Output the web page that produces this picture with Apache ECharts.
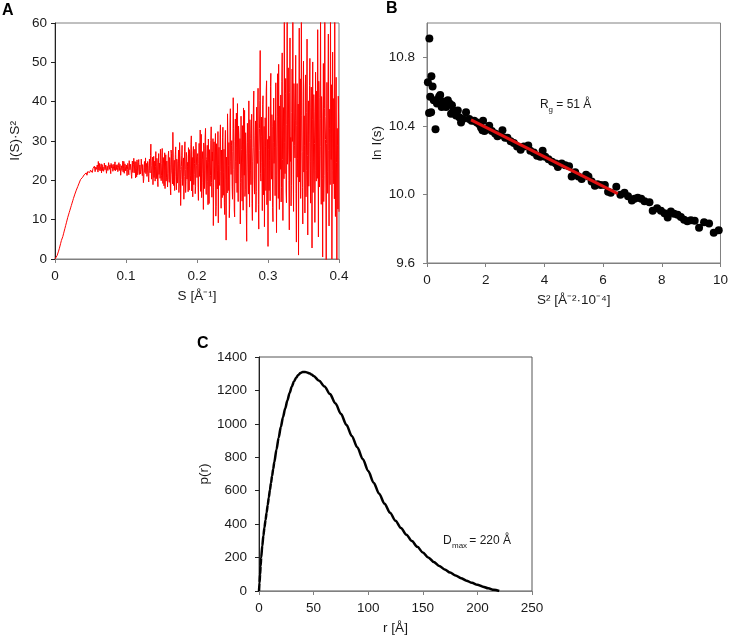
<!DOCTYPE html>
<html><head><meta charset="utf-8">
<script src="https://cdn.jsdelivr.net/npm/echarts@6/dist/echarts.min.js"></script>
<style>html,body{margin:0;padding:0;background:#fff}#c{width:731px;height:636px}</style>
</head><body><div id="c"></div>
<script>
// ---------- Panel A: Kratky plot (main grid) ----------
const sA = [
0,0.001,0.002,0.003,0.004,0.005,0.006,0.007,0.008,0.009,
0.01,0.011,0.012,0.013,0.014,0.015,0.016,0.017,0.018,0.019,
0.02,0.021,0.022,0.023,0.024,0.025,0.026,0.027,0.028,0.029,
0.03,0.031,0.032,0.033,0.034,0.035,0.036,0.037,0.038,0.039,
0.04,0.041,0.042,0.043,0.044,0.045,0.046,0.047,0.048,0.049,
0.05,0.051,0.052,0.053,0.054,0.055,0.056,0.057,0.058,0.059,
0.06,0.061,0.062,0.063,0.064,0.065,0.066,0.067,0.068,0.069,
0.07,0.071,0.072,0.073,0.074,0.075,0.076,0.077,0.078,0.079,
0.08,0.081,0.082,0.083,0.084,0.085,0.086,0.087,0.088,0.089,
0.09,0.091,0.092,0.093,0.094,0.095,0.096,0.097,0.098,0.099,
0.1,0.101,0.102,0.103,0.104,0.105,0.106,0.107,0.108,0.109,
0.11,0.111,0.112,0.113,0.114,0.115,0.116,0.117,0.118,0.119,
0.12,0.121,0.122,0.123,0.124,0.125,0.126,0.127,0.128,0.129,
0.13,0.131,0.132,0.133,0.134,0.135,0.136,0.137,0.138,0.139,
0.14,0.141,0.142,0.143,0.144,0.145,0.146,0.147,0.148,0.149,
0.15,0.151,0.152,0.153,0.154,0.155,0.156,0.157,0.158,0.159,
0.16,0.161,0.162,0.163,0.164,0.165,0.166,0.167,0.168,0.169,
0.17,0.171,0.172,0.173,0.174,0.175,0.176,0.177,0.178,0.179,
0.18,0.181,0.182,0.183,0.184,0.185,0.186,0.187,0.188,0.189,
0.19,0.191,0.192,0.193,0.194,0.195,0.196,0.197,0.198,0.199,
0.2,0.201,0.202,0.203,0.204,0.205,0.206,0.207,0.208,0.209,
0.21,0.211,0.212,0.213,0.214,0.215,0.216,0.217,0.218,0.219,
0.22,0.221,0.222,0.223,0.224,0.225,0.226,0.227,0.228,0.229,
0.23,0.231,0.232,0.233,0.234,0.235,0.236,0.237,0.238,0.239,
0.24,0.241,0.242,0.243,0.244,0.245,0.246,0.247,0.248,0.249,
0.25,0.251,0.252,0.253,0.254,0.255,0.256,0.257,0.258,0.259,
0.26,0.261,0.262,0.263,0.264,0.265,0.266,0.267,0.268,0.269,
0.27,0.271,0.272,0.273,0.274,0.275,0.276,0.277,0.278,0.279,
0.28,0.281,0.282,0.283,0.284,0.285,0.286,0.287,0.288,0.289,
0.29,0.291,0.292,0.293,0.294,0.295,0.296,0.297,0.298,0.299,
0.3,0.301,0.302,0.303,0.304,0.305,0.306,0.307,0.308,0.309,
0.31,0.311,0.312,0.313,0.314,0.315,0.316,0.317,0.318,0.319,
0.32,0.321,0.322,0.323,0.324,0.325,0.326,0.327,0.328,0.329,
0.33,0.331,0.332,0.333,0.334,0.335,0.336,0.337,0.338,0.339,
0.34,0.341,0.342,0.343,0.344,0.345,0.346,0.347,0.348,0.349,
0.35,0.351,0.352,0.353,0.354,0.355,0.356,0.357,0.358,0.359,
0.36,0.361,0.362,0.363,0.364,0.365,0.366,0.367,0.368,0.369,
0.37,0.371,0.372,0.373,0.374,0.375,0.376,0.377,0.378,0.379,
0.38,0.381,0.382,0.383,0.384,0.385,0.386,0.387,0.388,0.389,
0.39,0.391,0.392,0.393,0.394,0.395,0.396,0.397,0.398,0.399,
0.4];
const iA = [
0,0.2,0.5,0.9,1.4,2.0,2.6,3.3,4.0,4.7,
5.0,5.7,6.4,7.1,7.8,8.5,9.2,9.9,10.6,11.2,
11.8,12.4,13.0,13.6,14.2,14.8,15.4,15.9,16.5,17.0,
17.5,18.0,18.4,18.9,19.3,19.5,20.2,19.9,20.6,20.8,
21.0,21.4,20.9,21.6,21.9,21.3,22.2,21.8,22.5,22.0,
22.6,22.1,22.9,22.4,23.1,22.5,23.3,22.7,23.0,22.4,
23.2,24.8,22.6,23.9,22.8,24.2,23.1,22.5,23.7,22.9,
23.5,22.2,24.0,22.9,23.4,22.0,23.8,23.1,22.6,24.3,
22.8,23.6,21.9,24.1,23.0,22.4,23.9,22.7,23.3,21.8,
24.5,22.9,23.2,21.6,24.0,23.4,22.1,24.8,22.6,23.5,
21.9,24.2,22.8,23.6,21.4,24.6,22.3,23.8,20.5,24.9,
22.5,25.6,21.8,23.3,24.7,20.9,23.9,22.2,25.3,21.5,
24.1,22.7,25.1,21.2,23.6,20.4,24.8,22.9,21.7,24.3,
22.1,23.8,19.6,25.4,21.9,29.2,20.3,24.7,18.9,26.1,
22.4,19.8,27.3,21.1,24.6,18.4,26.8,22.0,20.5,25.9,
21.3,28.1,19.2,24.4,22.6,17.9,26.5,20.8,25.3,21.7,
27.4,19.5,24.0,16.3,26.9,21.4,32.2,18.7,25.1,22.3,
28.5,17.6,24.8,20.9,27.7,19.1,26.2,13.6,23.5,28.9,
18.2,25.7,21.0,29.8,16.9,27.1,20.3,24.6,28.3,17.5,
26.4,19.8,31.3,22.1,15.8,28.6,21.5,27.9,18.4,30.2,
20.7,26.8,14.9,29.4,22.9,17.2,31.7,19.5,27.3,12.6,
28.1,22.4,33.2,16.4,26.0,19.8,30.5,14.1,27.6,21.3,
33.6,15.7,24.9,8.5,29.8,20.2,31.9,13.4,26.7,22.6,
9.2,28.4,18.7,34.1,12.9,25.5,30.8,16.2,27.9,11.3,
32.7,4.8,26.3,36.9,17.4,29.6,13.8,38.2,21.5,30.1,
15.2,41.0,22.8,10.7,35.6,19.3,28.4,39.5,14.6,31.8,
24.2,8.9,36.3,20.5,33.9,12.4,29.1,37.8,17.6,26.9,
4.5,34.5,22.1,40.2,13.2,30.7,18.9,36.8,9.8,28.3,
42.7,16.5,31.4,11.9,38.6,24.3,43.4,7.6,33.2,53.0,
19.8,36.1,12.3,41.5,26.7,8.2,35.9,17.4,45.3,22.6,
3.2,38.7,25.1,14.8,47.2,20.3,33.6,9.5,40.9,28.4,
16.1,44.8,6.7,36.2,23.9,49.5,12.6,31.3,41.7,18.2,
52.4,9.8,38.5,63.0,21.7,45.9,14.3,61.5,27.8,35.6,
7.4,56.2,30.9,18.6,48.3,63.0,12.1,39.4,25.7,51.8,
4.3,44.6,20.8,1.0,58.7,33.1,15.4,62.0,27.3,8.9,
50.3,36.4,11.7,46.8,22.5,55.9,6.1,40.2,29.6,51.0,
14.2,43.7,2.8,50.1,24.9,37.6,9.3,47.5,19.8,33.4,
58.3,5.6,41.1,26.4,62.0,13.9,35.8,0.5,49.7,21.2,
61.0,30.4,-1.0,44.9,16.7,57.2,8.4,38.1,63.0,25.3,
0.0,52.6,19.1,34.7,60.5,10.8,46.2,-1.0,28.9,41.4,
12.0];
// ---------- Panel A: intermediate readings (half-step) ----------
const sA2 = [
0.0505,0.0515,0.0525,0.0535,0.0545,0.0555,0.0565,0.0575,0.0585,0.0595,
0.0605,0.0615,0.0625,0.0635,0.0645,0.0655,0.0665,0.0675,0.0685,0.0695,
0.0705,0.0715,0.0725,0.0735,0.0745,0.0755,0.0765,0.0775,0.0785,0.0795,
0.0805,0.0815,0.0825,0.0835,0.0845,0.0855,0.0865,0.0875,0.0885,0.0895,
0.0905,0.0915,0.0925,0.0935,0.0945,0.0955,0.0965,0.0975,0.0985,0.0995,
0.1005,0.1015,0.1025,0.1035,0.1045,0.1055,0.1065,0.1075,0.1085,0.1095,
0.1105,0.1115,0.1125,0.1135,0.1145,0.1155,0.1165,0.1175,0.1185,0.1195,
0.1205,0.1215,0.1225,0.1235,0.1245,0.1255,0.1265,0.1275,0.1285,0.1295,
0.1305,0.1315,0.1325,0.1335,0.1345,0.1355,0.1365,0.1375,0.1385,0.1395,
0.1405,0.1415,0.1425,0.1435,0.1445,0.1455,0.1465,0.1475,0.1485,0.1495,
0.1505,0.1515,0.1525,0.1535,0.1545,0.1555,0.1565,0.1575,0.1585,0.1595,
0.1605,0.1615,0.1625,0.1635,0.1645,0.1655,0.1665,0.1675,0.1685,0.1695,
0.1705,0.1715,0.1725,0.1735,0.1745,0.1755,0.1765,0.1775,0.1785,0.1795,
0.1805,0.1815,0.1825,0.1835,0.1845,0.1855,0.1865,0.1875,0.1885,0.1895,
0.1905,0.1915,0.1925,0.1935,0.1945,0.1955,0.1965,0.1975,0.1985,0.1995,
0.2005,0.2015,0.2025,0.2035,0.2045,0.2055,0.2065,0.2075,0.2085,0.2095,
0.2105,0.2115,0.2125,0.2135,0.2145,0.2155,0.2165,0.2175,0.2185,0.2195,
0.2205,0.2215,0.2225,0.2235,0.2245,0.2255,0.2265,0.2275,0.2285,0.2295,
0.2305,0.2315,0.2325,0.2335,0.2345,0.2355,0.2365,0.2375,0.2385,0.2395,
0.2405,0.2415,0.2425,0.2435,0.2445,0.2455,0.2465,0.2475,0.2485,0.2495,
0.2505,0.2515,0.2525,0.2535,0.2545,0.2555,0.2565,0.2575,0.2585,0.2595,
0.2605,0.2615,0.2625,0.2635,0.2645,0.2655,0.2665,0.2675,0.2685,0.2695,
0.2705,0.2715,0.2725,0.2735,0.2745,0.2755,0.2765,0.2775,0.2785,0.2795,
0.2805,0.2815,0.2825,0.2835,0.2845,0.2855,0.2865,0.2875,0.2885,0.2895,
0.2905,0.2915,0.2925,0.2935,0.2945,0.2955,0.2965,0.2975,0.2985,0.2995,
0.3005,0.3015,0.3025,0.3035,0.3045,0.3055,0.3065,0.3075,0.3085,0.3095,
0.3105,0.3115,0.3125,0.3135,0.3145,0.3155,0.3165,0.3175,0.3185,0.3195,
0.3205,0.3215,0.3225,0.3235,0.3245,0.3255,0.3265,0.3275,0.3285,0.3295,
0.3305,0.3315,0.3325,0.3335,0.3345,0.3355,0.3365,0.3375,0.3385,0.3395,
0.3405,0.3415,0.3425,0.3435,0.3445,0.3455,0.3465,0.3475,0.3485,0.3495,
0.3505,0.3515,0.3525,0.3535,0.3545,0.3555,0.3565,0.3575,0.3585,0.3595,
0.3605,0.3615,0.3625,0.3635,0.3645,0.3655,0.3665,0.3675,0.3685,0.3695,
0.3705,0.3715,0.3725,0.3735,0.3745,0.3755,0.3765,0.3775,0.3785,0.3795,
0.3805,0.3815,0.3825,0.3835,0.3845,0.3855,0.3865,0.3875,0.3885,0.3895,
0.3905,0.3915,0.3925,0.3935,0.3945,0.3955,0.3965,0.3975,0.3985,0.3995];
const iA2 = [
22.3,22.8,22.0,23.0,22.6,23.6,22.2,23.4,22.8,23.9,
22.1,23.5,24.3,22.4,23.6,21.9,24.0,23.4,22.3,24.4,
22.7,23.9,21.8,23.6,22.5,24.5,22.8,23.9,21.7,23.2,
24.0,22.3,23.4,22.6,24.7,21.9,23.5,24.0,22.2,23.8,
22.5,24.1,21.3,23.7,22.5,24.9,23.0,21.8,24.2,22.4,
23.9,21.2,24.3,22.1,25.0,22.7,24.1,21.5,23.4,22.0,
24.1,21.9,24.8,20.6,23.0,25.2,21.4,24.6,22.8,23.9,
21.6,25.4,22.3,24.0,19.4,23.3,22.0,25.7,23.2,21.0,
24.8,20.9,23.1,22.5,26.3,23.7,21.8,25.9,22.6,20.7,
24.9,23.5,20.4,25.6,19.7,23.9,21.5,24.4,27.9,19.9,
24.3,20.6,25.8,18.6,27.0,23.4,19.8,24.9,18.3,26.2,
20.2,25.8,17.8,27.7,22.4,19.1,25.9,23.2,17.4,26.6,
21.0,25.4,19.3,24.3,16.9,29.6,22.7,20.2,26.4,18.7,
24.9,15.2,27.4,22.8,19.7,26.1,23.5,17.1,22.9,27.8,
21.2,29.1,17.3,25.8,27.2,18.9,24.3,16.6,29.7,23.8,
26.1,18.1,24.2,21.0,32.8,24.6,15.6,25.2,21.8,29.5,
17.9,30.9,20.1,25.3,28.9,13.8,24.6,27.8,18.5,30.1,
19.4,27.2,30.6,18.1,23.4,27.9,10.9,29.3,17.8,32.4,
24.1,19.6,31.0,22.3,27.7,15.6,33.5,21.9,14.3,29.2,
20.1,25.9,16.8,30.2,23.8,10.5,34.6,24.7,28.8,18.4,
27.3,33.1,12.5,29.9,24.7,37.1,16.9,21.7,33.8,26.2,
30.6,19.4,27.8,14.7,24.6,38.4,21.3,15.9,32.1,11.5,
23.9,29.6,16.5,26.8,35.4,22.4,31.8,14.1,24.7,38.9,
20.3,26.7,35.1,17.2,29.4,34.8,13.9,27.6,40.3,21.8,
31.2,24.5,39.2,16.3,33.7,23.2,28.5,42.6,13.8,30.4,
27.9,17.4,31.2,43.8,22.6,36.7,13.1,29.7,24.3,35.2,
34.6,21.3,28.7,47.1,15.4,30.2,38.9,22.8,14.5,45.2,
25.3,33.7,20.4,29.6,42.1,17.3,34.2,24.1,48.6,19.9,
42.3,24.8,13.5,37.2,29.9,21.4,44.6,28.8,35.3,16.7,
33.9,25.6,39.4,30.2,19.6,45.8,27.1,36.4,18.2,39.7,
22.1,28.9,43.5,15.8,37.2,26.3,31.4,18.5,44.1,24.7,
38.6,27.2,35.4,16.9,41.8,29.3,22.6,36.1,42.7,20.5,
30.8,45.2,18.3,35.7,28.6,41.3,20.4,31.5,14.6,38.2,
36.2,17.8,29.4,22.3,39.6,27.5,33.2,18.9,31.7,44.3,
22.6,30.7,40.8,15.3,27.5,38.9,24.6,33.2,12.7,35.1];

// ---------- Panel B: Guinier plot ----------
const s2B = [0.03,0.07,0.08,0.11,0.14,0.15,0.19,0.23,0.29,0.34,0.41,0.45,0.5,0.55,0.6,0.65,0.71,0.77,0.82,0.85,0.9,0.99,1.05,1.1,1.16,1.22,1.33,1.44,1.52,1.61,1.7,1.78,1.84,1.89,1.91,1.96,2.05,2.12,2.21,2.32,2.4,2.47,2.57,2.66,2.74,2.85,2.96,3.07,3.19,3.3,3.45,3.52,3.64,3.75,3.86,3.94,4.03,4.14,4.26,4.39,4.46,4.59,4.71,4.84,4.93,5.05,5.16,5.27,5.42,5.5,5.61,5.72,5.81,5.92,6.06,6.17,6.26,6.45,6.59,6.73,6.85,6.98,7.07,7.18,7.3,7.41,7.58,7.69,7.84,7.97,8.09,8.2,8.31,8.42,8.54,8.65,8.76,8.87,8.99,9.12,9.27,9.44,9.61,9.77,9.94];
const lnIB = [10.655,10.475,10.91,10.57,10.48,10.69,10.63,10.55,10.38,10.53,10.57,10.58,10.51,10.54,10.54,10.51,10.55,10.53,10.47,10.52,10.49,10.46,10.49,10.45,10.42,10.44,10.48,10.44,10.43,10.43,10.42,10.41,10.39,10.375,10.43,10.37,10.38,10.40,10.37,10.355,10.34,10.345,10.375,10.33,10.33,10.31,10.30,10.28,10.26,10.28,10.285,10.255,10.245,10.225,10.22,10.255,10.22,10.205,10.19,10.18,10.16,10.18,10.17,10.165,10.105,10.13,10.105,10.09,10.115,10.105,10.075,10.05,10.06,10.055,10.055,10.015,10.01,10.045,9.998,10.01,9.99,9.965,9.975,9.98,9.975,9.96,9.955,9.905,9.92,9.905,9.89,9.865,9.9,9.888,9.882,9.868,9.853,9.843,9.849,9.847,9.805,9.838,9.83,9.776,9.791];
const fitX = [1.5, 6.5];
const fitY = [10.435, 10.005];

// ---------- Panel C: pair distance distribution ----------
const rC = [0,0.5,1,1.5,2,3,4,5,6,7,8,9,10,11,12,13,14,16,18,20,22,24,26,28,30,32,34,36,38,40,42,44,46,48,50,55,60,65,70,75,80,85,90,95,100,105,110,115,120,125,130,135,140,145,150,155,160,165,170,175,180,185,190,195,200,205,210,215,220];
const pC = [0,50,100,150,200,270,330,380,425,470,515,560,604,647,689,730,770,847,917,982,1040,1092,1140,1184,1222,1253,1276,1293,1304,1310,1311,1308,1303,1296,1286,1258,1224,1178,1122,1060,995,928,860,790,718,648,582,522,468,420,377,337,299,264,231,201,174,150,129,110,93,77,62,49,37,26,16,7,0];

const FF = '"Liberation Sans", Arial, Helvetica, sans-serif';
const TXT = '#1a1a1a';
const GRAY = '#808080';
const DARK = '#222222';

function xAx(gi, min, max, interval, name, fmt) {
  return {
    gridIndex: gi, type: 'value', min, max, interval,
    axisLine: { show: true, onZero: false, lineStyle: { color: GRAY, width: 1 } },
    axisTick: { show: true, length: 4, lineStyle: { color: GRAY } },
    axisLabel: { margin: 10, color: TXT, fontSize: 13.5, fontFamily: FF, formatter: fmt },
    splitLine: { show: false },
    name, nameLocation: 'middle', nameGap: 30,
    nameTextStyle: { color: TXT, fontSize: 13.5, fontFamily: FF }
  };
}
function yAx(gi, min, max, interval, name, nameGap, margin, lineColor, fmt, hideMax) {
  return {
    gridIndex: gi, type: 'value', min, max, interval,
    axisLine: { show: true, onZero: false, lineStyle: { color: lineColor, width: 1 } },
    axisTick: { show: true, length: 4, lineStyle: { color: lineColor } },
    axisLabel: { margin, color: TXT, fontSize: 13.5, fontFamily: FF, formatter: fmt, showMaxLabel: hideMax ? false : null },
    splitLine: { show: false },
    name, nameLocation: 'middle', nameGap,
    nameTextStyle: { color: TXT, fontSize: 13.5, fontFamily: FF }
  };
}

const kratky = sA.map((s, i) => [s, iA[i]])
  .concat(sA2.map((s, i) => [s, iA2[i]]))
  .sort((a, b) => a[0] - b[0]);

const chart = echarts.init(document.getElementById('c'), null, { renderer: 'canvas' });
chart.setOption({
  animation: false,
  backgroundColor: '#ffffff',
  grid: [
    { left: 55, top: 23, width: 284, height: 236, show: true, borderColor: GRAY, borderWidth: 1, containLabel: false },
    { left: 427, top: 23, width: 296, height: 240, show: true, borderColor: GRAY, borderWidth: 1, containLabel: false },
    { left: 259, top: 357, width: 273, height: 235, show: true, borderColor: '#555555', borderWidth: 1, containLabel: false }
  ],
  xAxis: [
    xAx(0, 0, 0.4, 0.1, 'S [Å⁻¹]', v => (v === 0 ? '0' : String(+v.toFixed(1)))),
    xAx(1, 0, 10, 2, 'S² [Å⁻²·10⁻⁴]', v => String(v)),
    xAx(2, 0, 250, 50, 'r [Å]', v => String(v))
  ],
  yAxis: [
    yAx(0, 0, 60, 10, 'I(S)·S²', 33, 8, DARK, v => String(v), false),
    yAx(1, 9.6, 11.0, 0.4, 'ln I(s)', 43, 12, GRAY, v => v.toFixed(1), true),
    yAx(2, 0, 1400, 200, 'p(r)', 48, 12, DARK, v => String(v), false)
  ],
  series: [
    {
      type: 'line', xAxisIndex: 0, yAxisIndex: 0,
      data: kratky,
      showSymbol: false, symbol: 'none', sampling: null,
      lineStyle: { color: '#ff0000', width: 1 },
      clip: true, z: 3
    },
    {
      type: 'scatter', xAxisIndex: 1, yAxisIndex: 1,
      data: s2B.map((x, i) => [x, lnIB[i]]),
      symbol: 'circle', symbolSize: 8,
      itemStyle: { color: '#000000', opacity: 1 }, z: 3
    },
    {
      type: 'line', xAxisIndex: 1, yAxisIndex: 1,
      data: fitX.map((x, i) => [x, fitY[i]]),
      showSymbol: false, symbol: 'none',
      lineStyle: { color: '#e01010', width: 3 }, z: 4
    },
    {
      type: 'line', xAxisIndex: 2, yAxisIndex: 2,
      data: rC.map((r, i) => [r, pC[i]]),
      showSymbol: false, symbol: 'none', smooth: 0.3, smoothMonotone: 'x',
      lineStyle: { color: '#000000', width: 2.5 }, z: 3
    }
  ],
  graphic: [
    { type: 'text', left: 2, top: 3, style: { text: 'A', fontSize: 16, fontWeight: 'bold', fontFamily: FF, fill: '#000' } },
    { type: 'text', left: 386, top: 1, style: { text: 'B', fontSize: 16, fontWeight: 'bold', fontFamily: FF, fill: '#000' } },
    { type: 'text', left: 197, top: 336, style: { text: 'C', fontSize: 16, fontWeight: 'bold', fontFamily: FF, fill: '#000' } },
    { type: 'text', left: 540, top: 99, style: { text: 'R', fontSize: 12, fontFamily: FF, fill: TXT } },
    { type: 'text', left: 548.5, top: 106, style: { text: 'g', fontSize: 8, fontFamily: FF, fill: TXT } },
    { type: 'text', left: 553, top: 99, style: { text: ' = 51 Å', fontSize: 12, fontFamily: FF, fill: TXT } },
    { type: 'text', left: 443, top: 535, style: { text: 'D', fontSize: 12, fontFamily: FF, fill: TXT } },
    { type: 'text', left: 452, top: 542, style: { text: 'max', fontSize: 8, fontFamily: FF, fill: TXT } },
    { type: 'text', left: 466, top: 535, style: { text: ' = 220 Å', fontSize: 12, fontFamily: FF, fill: TXT } }
  ]
});
</script>
</body></html>
